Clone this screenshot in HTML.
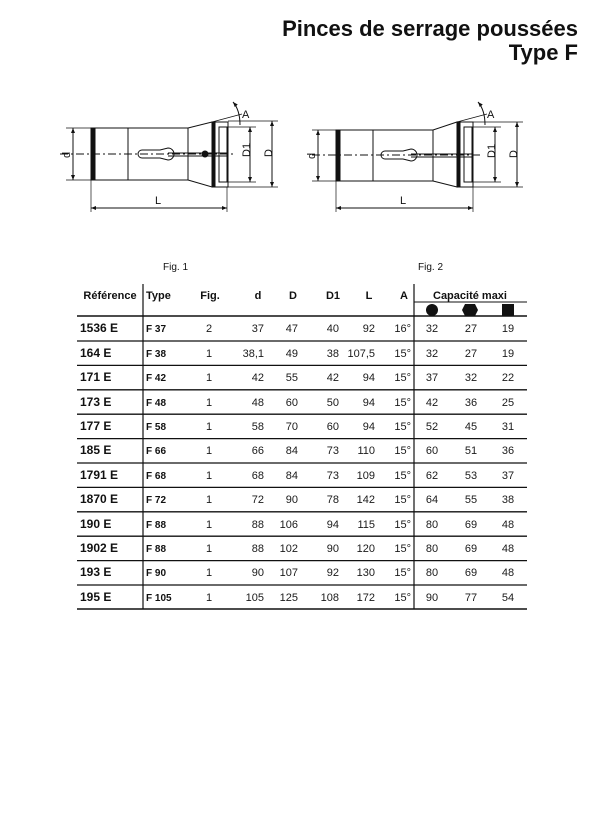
<!DOCTYPE html>
<html><head><meta charset="utf-8"><style>
body{margin:0;width:600px;height:825px;background:#fff;position:relative;font-family:"Liberation Sans",Arial,sans-serif;color:#111;overflow:hidden}
.t{position:absolute;white-space:nowrap}
.title{right:22px;font-weight:bold;font-size:22px}
</style></head><body>
<div class="t title" style="top:16px">Pinces de serrage poussées</div>
<div class="t title" style="top:40px">Type F</div>

<svg width="600" height="240" style="position:absolute;left:0;top:0" font-family="Liberation Sans, Arial, sans-serif" font-size="11">
<defs><marker id="ar" markerWidth="6" markerHeight="6" refX="5" refY="3" orient="auto-start-reverse"><path d="M0,1 L5,3 L0,5z" fill="#111"/></marker></defs>
<g stroke="#111" fill="none" stroke-width="1">
 <rect x="91" y="128" width="37" height="52"/>
 <rect x="91" y="128" width="4" height="52" fill="#111"/>
 <rect x="128" y="128" width="60" height="52"/>
 <path d="M188,128 L212,122 L212,187 L188,180"/>
 <rect x="212" y="122" width="16" height="65"/>
 <rect x="212" y="122" width="3" height="65" fill="#111"/>
 <rect x="219" y="127" width="8" height="55"/>
 <line x1="60" y1="154" x2="236" y2="154" stroke-dasharray="8,3,2,3"/>
 <path d="M142,150 h18 l8,-2 a6,6 0 0 1 0,12 l-8,-2 h-18 a4,4 0 0 1 0,-8z"/>
 <line x1="168" y1="153" x2="228" y2="153"/><line x1="168" y1="156" x2="228" y2="156"/>
 <circle cx="205" cy="154" r="3" fill="#111"/>
 <line x1="66" y1="128" x2="91" y2="128" stroke-width=".7"/><line x1="66" y1="180" x2="91" y2="180" stroke-width=".7"/>
 <line x1="73" y1="128" x2="73" y2="180" marker-start="url(#ar)" marker-end="url(#ar)"/>
 <line x1="228" y1="127" x2="256" y2="127" stroke-width=".7"/><line x1="228" y1="182" x2="256" y2="182" stroke-width=".7"/>
 <line x1="250" y1="127" x2="250" y2="182" marker-start="url(#ar)" marker-end="url(#ar)"/>
 <line x1="228" y1="121" x2="278" y2="121" stroke-width=".7"/><line x1="228" y1="187" x2="278" y2="187" stroke-width=".7"/>
 <line x1="272" y1="121" x2="272" y2="187" marker-start="url(#ar)" marker-end="url(#ar)"/>
 <line x1="91" y1="180" x2="91" y2="212" stroke-width=".7"/><line x1="227" y1="187" x2="227" y2="212" stroke-width=".7"/>
 <line x1="91" y1="208" x2="227" y2="208" marker-start="url(#ar)" marker-end="url(#ar)"/>
 <line x1="212" y1="122" x2="242" y2="114" stroke-width=".7"/>
 <path d="M233,102 Q240,110 240,125" marker-start="url(#ar)"/>
 <rect x="336" y="130" width="37" height="51"/>
 <rect x="336" y="130" width="4" height="51" fill="#111"/>
 <rect x="373" y="130" width="60" height="51"/>
 <path d="M433,130 L457,122 L457,187 L433,181"/>
 <rect x="457" y="122" width="16" height="65"/>
 <rect x="457" y="122" width="3" height="65" fill="#111"/>
 <rect x="464" y="127" width="8" height="55"/>
 <line x1="312" y1="155" x2="480" y2="155" stroke-dasharray="8,3,2,3"/>
 <path d="M385,151 h18 l8,-2 a6,6 0 0 1 0,12 l-8,-2 h-18 a4,4 0 0 1 0,-8z"/>
 <line x1="411" y1="154" x2="473" y2="154"/><line x1="411" y1="157" x2="473" y2="157"/>
 <line x1="312" y1="130" x2="336" y2="130" stroke-width=".7"/><line x1="312" y1="181" x2="336" y2="181" stroke-width=".7"/>
 <line x1="318" y1="130" x2="318" y2="181" marker-start="url(#ar)" marker-end="url(#ar)"/>
 <line x1="473" y1="127" x2="501" y2="127" stroke-width=".7"/><line x1="473" y1="182" x2="501" y2="182" stroke-width=".7"/>
 <line x1="495" y1="127" x2="495" y2="182" marker-start="url(#ar)" marker-end="url(#ar)"/>
 <line x1="473" y1="122" x2="523" y2="122" stroke-width=".7"/><line x1="473" y1="187" x2="523" y2="187" stroke-width=".7"/>
 <line x1="517" y1="122" x2="517" y2="187" marker-start="url(#ar)" marker-end="url(#ar)"/>
 <line x1="336" y1="181" x2="336" y2="212" stroke-width=".7"/><line x1="473" y1="187" x2="473" y2="212" stroke-width=".7"/>
 <line x1="336" y1="208" x2="473" y2="208" marker-start="url(#ar)" marker-end="url(#ar)"/>
 <line x1="457" y1="122" x2="487" y2="114" stroke-width=".7"/>
 <path d="M478,102 Q485,110 485,125" marker-start="url(#ar)"/>
</g>
<g fill="#111">
 <text x="62" y="158" transform="rotate(-90 66 154)">d</text>
 <text x="243" y="158" transform="rotate(-90 246 154)">D1</text>
 <text x="265" y="158" transform="rotate(-90 268 154)">D</text>
 <text x="155" y="204">L</text>
 <text x="242" y="118">A</text>
 <text x="307" y="159" transform="rotate(-90 311 155)">d</text>
 <text x="488" y="159" transform="rotate(-90 491 155)">D1</text>
 <text x="510" y="159" transform="rotate(-90 513 155)">D</text>
 <text x="400" y="204">L</text>
 <text x="487" y="118">A</text>
</g>
</svg>

<div class="t" style="left:163px;top:262px;font-size:10px">Fig. 1</div>
<div class="t" style="left:418px;top:262px;font-size:10px">Fig. 2</div>

<svg width="600" height="340" style="position:absolute;left:0;top:280px" font-family="Liberation Sans, Arial, sans-serif" font-size="11" fill="#1a1a1a">
<g stroke="#111">
 <line x1="77" y1="36" x2="527" y2="36" stroke-width="1.5"/>
 <line x1="414" y1="22" x2="527" y2="22" stroke-width="1"/>
 <line x1="143" y1="4" x2="143" y2="329" stroke-width="1.2"/>
 <line x1="414" y1="4" x2="414" y2="329" stroke-width="1.2"/>
</g>
<circle cx="432" cy="30" r="6" fill="#111"/>
<polygon points="465,24 475,24 478,30 475,36 465,36 462,30" fill="#111"/>
<rect x="502" y="24" width="12" height="12" fill="#111"/>
<g font-weight="bold" fill="#111">
 <text x="110" y="19" text-anchor="middle">Référence</text>
 <text x="146" y="19">Type</text>
 <text x="210" y="19" text-anchor="middle">Fig.</text>
 <text x="258" y="19" text-anchor="middle">d</text>
 <text x="293" y="19" text-anchor="middle">D</text>
 <text x="333" y="19" text-anchor="middle">D1</text>
 <text x="369" y="19" text-anchor="middle">L</text>
 <text x="404" y="19" text-anchor="middle">A</text>
 <text x="470" y="19" text-anchor="middle">Capacité maxi</text>
</g>
<g stroke="#111" stroke-width="1.3">
<line x1="77" y1="61" x2="527" y2="61"/><line x1="77" y1="85.4" x2="527" y2="85.4"/><line x1="77" y1="109.8" x2="527" y2="109.8"/><line x1="77" y1="134.2" x2="527" y2="134.2"/><line x1="77" y1="158.6" x2="527" y2="158.6"/><line x1="77" y1="183" x2="527" y2="183"/><line x1="77" y1="207.4" x2="527" y2="207.4"/><line x1="77" y1="231.8" x2="527" y2="231.8"/><line x1="77" y1="256.2" x2="527" y2="256.2"/><line x1="77" y1="280.6" x2="527" y2="280.6"/><line x1="77" y1="305" x2="527" y2="305"/><line x1="77" y1="329" x2="527" y2="329" stroke-width="1.6"/>
</g>
<g font-weight="bold" fill="#111">
<text x="80" y="52" font-size="12">1536 E</text><text x="80" y="77" font-size="12">164 E</text><text x="80" y="101" font-size="12">171 E</text><text x="80" y="126" font-size="12">173 E</text><text x="80" y="150" font-size="12">177 E</text><text x="80" y="174" font-size="12">185 E</text><text x="80" y="199" font-size="12">1791 E</text><text x="80" y="223" font-size="12">1870 E</text><text x="80" y="248" font-size="12">190 E</text><text x="80" y="272" font-size="12">1902 E</text><text x="80" y="296" font-size="12">193 E</text><text x="80" y="321" font-size="12">195 E</text>
<text x="146" y="52" font-size="10">F 37</text><text x="146" y="77" font-size="10">F 38</text><text x="146" y="101" font-size="10">F 42</text><text x="146" y="126" font-size="10">F 48</text><text x="146" y="150" font-size="10">F 58</text><text x="146" y="174" font-size="10">F 66</text><text x="146" y="199" font-size="10">F 68</text><text x="146" y="223" font-size="10">F 72</text><text x="146" y="248" font-size="10">F 88</text><text x="146" y="272" font-size="10">F 88</text><text x="146" y="296" font-size="10">F 90</text><text x="146" y="321" font-size="10">F 105</text>
</g>
<g text-anchor="middle">
<text x="209" y="52">2</text><text x="209" y="77">1</text><text x="209" y="101">1</text><text x="209" y="126">1</text><text x="209" y="150">1</text><text x="209" y="174">1</text><text x="209" y="199">1</text><text x="209" y="223">1</text><text x="209" y="248">1</text><text x="209" y="272">1</text><text x="209" y="296">1</text><text x="209" y="321">1</text>
</g>
<g text-anchor="end">
<text x="264" y="52">37</text><text x="264" y="77">38,1</text><text x="264" y="101">42</text><text x="264" y="126">48</text><text x="264" y="150">58</text><text x="264" y="174">66</text><text x="264" y="199">68</text><text x="264" y="223">72</text><text x="264" y="248">88</text><text x="264" y="272">88</text><text x="264" y="296">90</text><text x="264" y="321">105</text>
<text x="298" y="52">47</text><text x="298" y="77">49</text><text x="298" y="101">55</text><text x="298" y="126">60</text><text x="298" y="150">70</text><text x="298" y="174">84</text><text x="298" y="199">84</text><text x="298" y="223">90</text><text x="298" y="248">106</text><text x="298" y="272">102</text><text x="298" y="296">107</text><text x="298" y="321">125</text>
<text x="339" y="52">40</text><text x="339" y="77">38</text><text x="339" y="101">42</text><text x="339" y="126">50</text><text x="339" y="150">60</text><text x="339" y="174">73</text><text x="339" y="199">73</text><text x="339" y="223">78</text><text x="339" y="248">94</text><text x="339" y="272">90</text><text x="339" y="296">92</text><text x="339" y="321">108</text>
<text x="375" y="52">92</text><text x="375" y="77">107,5</text><text x="375" y="101">94</text><text x="375" y="126">94</text><text x="375" y="150">94</text><text x="375" y="174">110</text><text x="375" y="199">109</text><text x="375" y="223">142</text><text x="375" y="248">115</text><text x="375" y="272">120</text><text x="375" y="296">130</text><text x="375" y="321">172</text>
<text x="411" y="52">16°</text><text x="411" y="77">15°</text><text x="411" y="101">15°</text><text x="411" y="126">15°</text><text x="411" y="150">15°</text><text x="411" y="174">15°</text><text x="411" y="199">15°</text><text x="411" y="223">15°</text><text x="411" y="248">15°</text><text x="411" y="272">15°</text><text x="411" y="296">15°</text><text x="411" y="321">15°</text>
</g>
<g text-anchor="middle">
<text x="432" y="52">32</text><text x="432" y="77">32</text><text x="432" y="101">37</text><text x="432" y="126">42</text><text x="432" y="150">52</text><text x="432" y="174">60</text><text x="432" y="199">62</text><text x="432" y="223">64</text><text x="432" y="248">80</text><text x="432" y="272">80</text><text x="432" y="296">80</text><text x="432" y="321">90</text>
<text x="471" y="52">27</text><text x="471" y="77">27</text><text x="471" y="101">32</text><text x="471" y="126">36</text><text x="471" y="150">45</text><text x="471" y="174">51</text><text x="471" y="199">53</text><text x="471" y="223">55</text><text x="471" y="248">69</text><text x="471" y="272">69</text><text x="471" y="296">69</text><text x="471" y="321">77</text>
<text x="508" y="52">19</text><text x="508" y="77">19</text><text x="508" y="101">22</text><text x="508" y="126">25</text><text x="508" y="150">31</text><text x="508" y="174">36</text><text x="508" y="199">37</text><text x="508" y="223">38</text><text x="508" y="248">48</text><text x="508" y="272">48</text><text x="508" y="296">48</text><text x="508" y="321">54</text>
</g>
</svg>
</body></html>
